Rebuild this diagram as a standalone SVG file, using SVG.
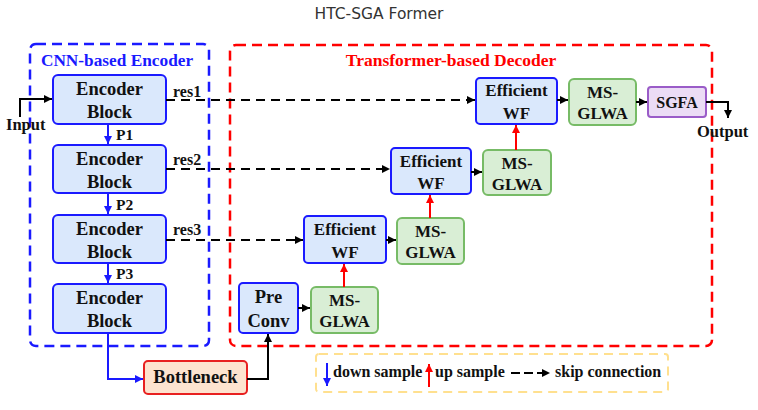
<svg xmlns="http://www.w3.org/2000/svg" width="758" height="410" viewBox="0 0 758 410">
<defs>
<style>
.t{font-family:"Liberation Serif","Times New Roman",serif;font-weight:bold;fill:#111;}
.c{text-anchor:middle;}
.enc{fill:#dae8fc;stroke:#1a1aff;stroke-width:2;}
.grn{fill:#d9eed5;stroke:#77bb66;stroke-width:2;}
.ln{fill:none;stroke:#000;stroke-width:2;}
.dl{fill:none;stroke:#000;stroke-width:2;stroke-dasharray:9 6;}
.bl{fill:none;stroke:#1a1aff;stroke-width:2;}
.rl{fill:none;stroke:#ff0000;stroke-width:2;}
</style>
<marker id="ak" viewBox="0 0 10 10" refX="10" refY="5" markerWidth="8" markerHeight="8" markerUnits="userSpaceOnUse" orient="auto"><path d="M0,0 L10,5 L0,10 z" fill="#000"/></marker>
<marker id="ab" viewBox="0 0 10 10" refX="10" refY="5" markerWidth="8" markerHeight="8" markerUnits="userSpaceOnUse" orient="auto"><path d="M0,0 L10,5 L0,10 z" fill="#1a1aff"/></marker>
<marker id="ar" viewBox="0 0 10 10" refX="10" refY="5" markerWidth="8" markerHeight="8" markerUnits="userSpaceOnUse" orient="auto"><path d="M0,0 L10,5 L0,10 z" fill="#ff0000"/></marker>
</defs>
<rect width="758" height="410" fill="#fff"/>
<text x="379" y="19" text-anchor="middle" font-family="DejaVu Sans, sans-serif" font-size="15.5" fill="#333">HTC-SGA Former</text>

<g id="encoder-container">
<rect x="30" y="44" width="179" height="302" rx="6" fill="none" stroke="#1a1aff" stroke-width="2.5" stroke-dasharray="10 6"/>
<text class="t c" x="117" y="66" font-size="17.3" style="fill:#1a1aff">CNN-based Encoder</text>
</g>
<g id="decoder-container">
<rect x="230" y="45" width="482" height="301" rx="6" fill="none" stroke="#ff0000" stroke-width="2.5" stroke-dasharray="10 6"/>
<text class="t c" x="451" y="66" font-size="17.5" style="fill:#ff0000">Transformer-based Decoder</text>
</g>

<g id="enc1"><rect class="enc" x="53" y="75" width="113" height="49" rx="5"/><text class="t c" x="109.5" y="95" font-size="18.5">Encoder</text><text class="t c" x="109.5" y="118" font-size="18.5">Block</text></g>
<g id="enc2"><rect class="enc" x="53" y="145" width="113" height="48" rx="5"/><text class="t c" x="109.5" y="165" font-size="18.5">Encoder</text><text class="t c" x="109.5" y="188" font-size="18.5">Block</text></g>
<g id="enc3"><rect class="enc" x="53" y="215" width="113" height="48" rx="5"/><text class="t c" x="109.5" y="235" font-size="18.5">Encoder</text><text class="t c" x="109.5" y="258" font-size="18.5">Block</text></g>
<g id="enc4"><rect class="enc" x="53" y="284" width="113" height="49" rx="5"/><text class="t c" x="109.5" y="304" font-size="18.5">Encoder</text><text class="t c" x="109.5" y="327" font-size="18.5">Block</text></g>

<g id="bottleneck"><rect x="144" y="361" width="103" height="33" rx="4" fill="#fde3cf" stroke="#e82020" stroke-width="2"/><text class="t c" x="195.5" y="383" font-size="18.5">Bottleneck</text></g>

<g id="preconv"><rect class="enc" x="239" y="283" width="59" height="50" rx="4"/><text class="t c" x="268.5" y="303" font-size="18.5">Pre</text><text class="t c" x="268.5" y="327" font-size="18.5">Conv</text></g>
<g id="msglwa1"><rect class="grn" x="311" y="287" width="67" height="46" rx="5"/><text class="t c" x="344.5" y="306" font-size="17">MS-</text><text class="t c" x="344.5" y="327" font-size="17">GLWA</text></g>
<g id="ewf3"><rect class="enc" x="304" y="216" width="82" height="47" rx="4"/><text class="t c" x="345" y="235" font-size="17">Efficient</text><text class="t c" x="345" y="258" font-size="17">WF</text></g>
<g id="msglwa2"><rect class="grn" x="397" y="218" width="67" height="46" rx="5"/><text class="t c" x="430.5" y="237" font-size="17">MS-</text><text class="t c" x="430.5" y="258" font-size="17">GLWA</text></g>
<g id="ewf2"><rect class="enc" x="391" y="148" width="80" height="46" rx="4"/><text class="t c" x="431" y="167" font-size="17">Efficient</text><text class="t c" x="431" y="189" font-size="17">WF</text></g>
<g id="msglwa3"><rect class="grn" x="483" y="150" width="68" height="45" rx="5"/><text class="t c" x="517" y="169" font-size="17">MS-</text><text class="t c" x="517" y="190" font-size="17">GLWA</text></g>
<g id="ewf1"><rect class="enc" x="476" y="78" width="81" height="46" rx="4"/><text class="t c" x="516.5" y="96" font-size="17">Efficient</text><text class="t c" x="516.5" y="119" font-size="17">WF</text></g>
<g id="msglwa4"><rect class="grn" x="569" y="79" width="67" height="46" rx="5"/><text class="t c" x="602.5" y="98" font-size="17">MS-</text><text class="t c" x="602.5" y="119" font-size="17">GLWA</text></g>
<g id="sgfa"><rect x="648" y="87" width="58" height="30" rx="3" fill="#ebdcf5" stroke="#9a5cc8" stroke-width="2"/><text class="t c" x="677" y="107.5" font-size="16">SGFA</text></g>

<g id="connectors">
<path class="ln" d="M20,117 V99 H52" marker-end="url(#ak)"/>
<path class="bl" d="M108,124 V144" marker-end="url(#ab)"/>
<path class="bl" d="M108,193 V214" marker-end="url(#ab)"/>
<path class="bl" d="M108,263 V283" marker-end="url(#ab)"/>
<path class="bl" d="M108,333 V379 H143" marker-end="url(#ab)"/>
<path class="ln" d="M247,379 H268 V334" marker-end="url(#ak)"/>
<path class="dl" d="M166,100 H475" marker-end="url(#ak)"/>
<path class="dl" d="M166,169 H390" marker-end="url(#ak)"/>
<path class="dl" d="M166,240 H303" marker-end="url(#ak)"/>
<path class="ln" d="M298,308 H310" marker-end="url(#ak)"/>
<path class="ln" d="M386,240 H396" marker-end="url(#ak)"/>
<path class="ln" d="M471,172 H482" marker-end="url(#ak)"/>
<path class="ln" d="M557,100 H568" marker-end="url(#ak)"/>
<path class="ln" d="M636,102 H647" marker-end="url(#ak)"/>
<path class="ln" d="M706,102 H728 V118" marker-end="url(#ak)"/>
<path class="rl" d="M344,287 V264" marker-end="url(#ar)"/>
<path class="rl" d="M430,218 V195" marker-end="url(#ar)"/>
<path class="rl" d="M516,150 V125" marker-end="url(#ar)"/>
</g>

<g id="labels">
<text class="t" x="6" y="130" font-size="16.5">Input</text>
<text class="t" x="697" y="137" font-size="16.5">Output</text>
<text class="t" x="173" y="97" font-size="16">res1</text>
<text class="t" x="173" y="165" font-size="16">res2</text>
<text class="t" x="173" y="235" font-size="16">res3</text>
<text class="t" x="116" y="140" font-size="15.5">P1</text>
<text class="t" x="116" y="210" font-size="15.5">P2</text>
<text class="t" x="116" y="279" font-size="15.5">P3</text>
</g>

<g id="legend">
<rect x="316" y="354" width="352" height="38" rx="3" fill="none" stroke="#ffe08f" stroke-width="2" stroke-dasharray="9 6"/>
<path class="bl" d="M327,363 V386" marker-end="url(#ab)"/>
<text class="t" x="333" y="377" font-size="16">down sample</text>
<path class="rl" d="M429,387 V364" marker-end="url(#ar)"/>
<text class="t" x="435" y="377" font-size="16">up sample</text>
<path class="ln" d="M511,373 H550" stroke-dasharray="9 4" marker-end="url(#ak)"/>
<text class="t" x="555" y="377" font-size="16">skip connection</text>
</g>
</svg>
